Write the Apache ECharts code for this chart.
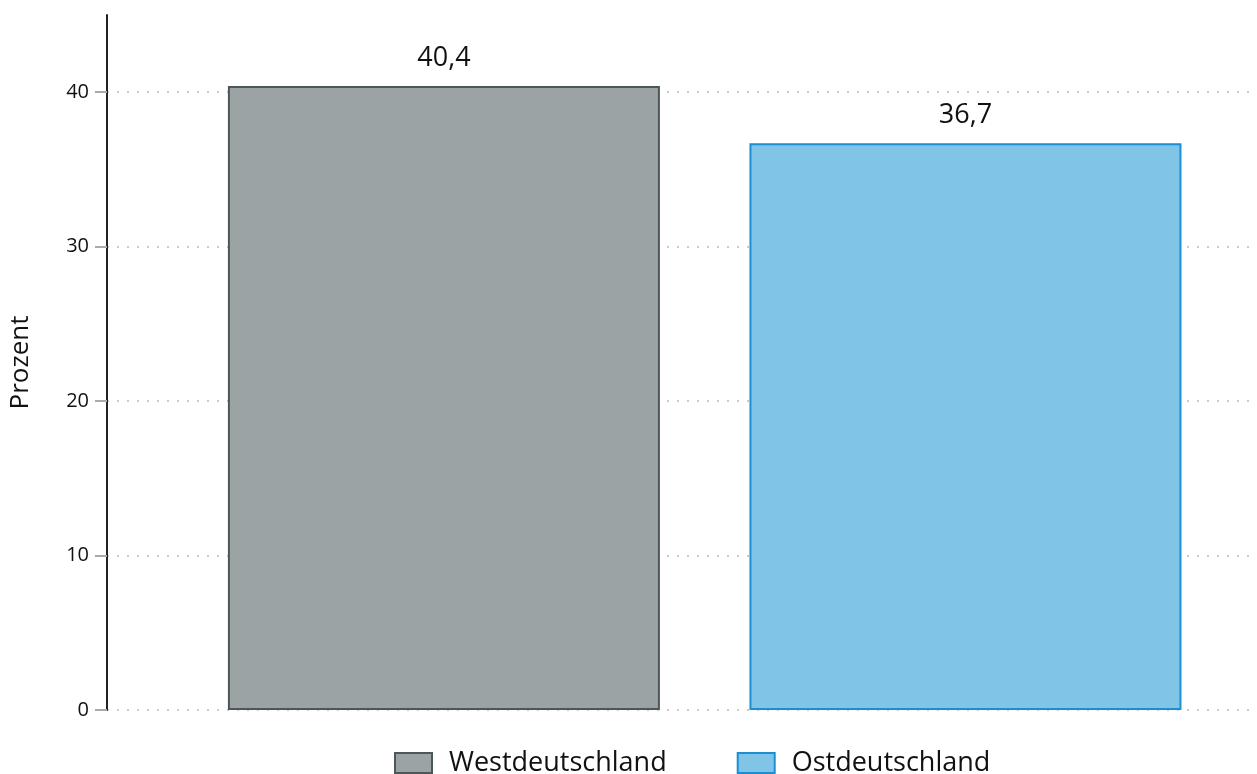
<!DOCTYPE html>
<html>
<head>
    <meta charset="utf-8">
    <script src="https://cdn.jsdelivr.net/npm/echarts@6/dist/echarts.min.js"></script>
</head>
<body style="margin:0;background:#fff;">
    <div id="main" style="width:1257px;height:774px;"></div>
</body>
<script type="text/javascript">
    // Werte aus der Grafik
    var regionen = ['Westdeutschland', 'Ostdeutschland'];
    var werte = [40.4, 36.7];
    var positionen = [1, 2];
    var yTicks = [0, 10, 20, 30, 40];

    var farben = ['#9ca3a5', '#80c4e8'];
    var rahmen = ['#4d5759', '#1a90d3'];

    var myChart = echarts.init(document.getElementById('main'));

    var series = regionen.map(function (name, i) {
        return {
            name: name,
            type: 'bar',
            barWidth: 432,
            barGap: '-100%',
            data: [[positionen[i], werte[i]]],
            itemStyle: { color: farben[i], borderColor: rahmen[i], borderWidth: 2 },
            label: {
                show: true,
                position: 'top',
                distance: 14,
                fontSize: 27,
                fontFamily: 'Open Sans',
                color: '#111',
                formatter: function (p) { return String(p.value[1]).replace('.', ','); }
            }
        };
    });

    myChart.setOption({
        animation: false,
        backgroundColor: '#fff',
        grid: { left: 107, right: 0, top: 15, bottom: 64, outerBoundsMode: 'none', containLabel: false },
        legend: {
            top: 744,
            left: 389,
            icon: 'rect',
            itemWidth: 37,
            itemHeight: 20,
            itemGap: 70,
            textStyle: { fontSize: 27, lineHeight: 28, fontFamily: 'Open Sans', color: '#111', padding: [0, 0, 0, 12] },
            data: regionen
        },
        xAxis: {
            type: 'value',
            min: 0.354,
            max: 2.559,
            show: false
        },
        yAxis: {
            type: 'value',
            min: 0,
            max: 45,
            interval: 10,
            name: 'Prozent',
            nameLocation: 'middle',
            nameGap: 73,
            nameTextStyle: { fontSize: 26, fontFamily: 'Open Sans', color: '#111' },
            axisLine: { show: true, lineStyle: { color: '#222', width: 2 } },
            axisTick: { show: true, length: 12, customValues: yTicks, lineStyle: { color: '#aaa', width: 2 } },
            axisLabel: {
                fontSize: 20, fontFamily: 'Open Sans', color: '#111', margin: 18,
                customValues: yTicks
            },
            splitLine: { show: true, lineStyle: { color: '#bbb', type: [2, 8], width: 1.5 } }
        },
        series: series
    });
</script>
</html>
